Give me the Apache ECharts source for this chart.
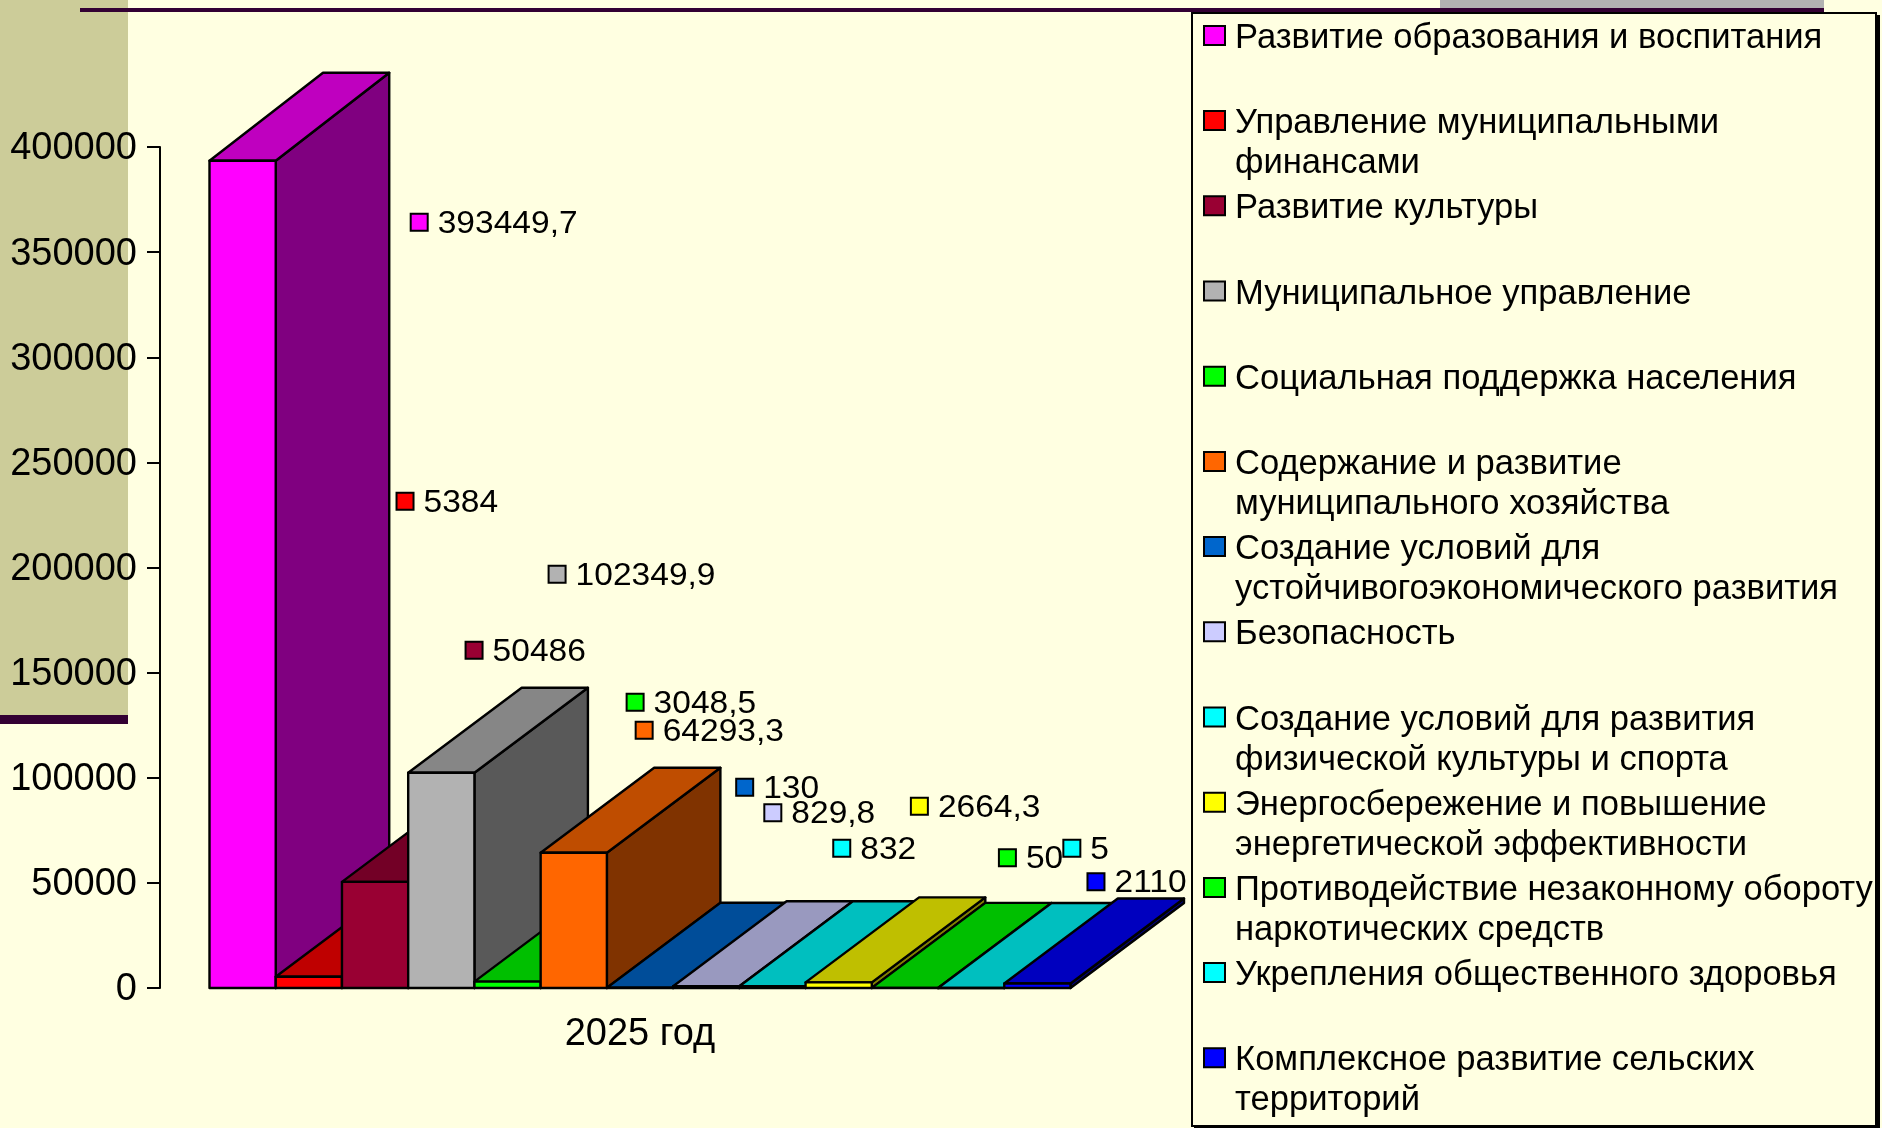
<!DOCTYPE html>
<html><head><meta charset="utf-8">
<style>html,body{margin:0;padding:0;background:#FFFFE1}#c{width:1882px;height:1128px}</style>
<script src="https://cdn.jsdelivr.net/npm/echarts@6/dist/echarts.min.js"></script>
</head><body><div id="c"></div>
<script>
const categories = ['2025 год'];
const seriesNames = [
 'Развитие образования и воспитания',
 'Управление муниципальными\nфинансами',
 'Развитие культуры',
 'Муниципальное управление',
 'Социальная поддержка населения',
 'Содержание и развитие\nмуниципального хозяйства',
 'Создание условий для\nустойчивогоэкономического развития',
 'Безопасность',
 'Создание условий для развития\nфизической культуры и спорта',
 'Энергосбережение и повышение\nэнергетической эффективности',
 'Противодействие незаконному обороту\nнаркотических средств',
 'Укрепления общественного здоровья',
 'Комплексное развитие сельских\nтерриторий'
];
const values = [393449.7, 5384, 50486, 102349.9, 3048.5, 64293.3, 130, 829.8, 832, 2664.3, 50, 5, 2110];
const frontRGB = [[255,0,255],[255,0,0],[153,0,51],[178,178,178],[0,255,0],[255,102,0],[0,102,204],[204,204,255],[0,255,255],[255,255,0],[0,255,0],[0,255,255],[0,0,255]];
// label marker offset from each bar's left edge / the baseline (px)
const labelDX = [201.2,120.8,123.6,140.4,152.2,95,129.3,91.2,93.9,105.3,127.1,125.3,83.2];
const labelDY = [-765.7,-486.7,-337.7,-413.7,-285.7,-257.7,-200.7,-175.2,-139.7,-181.7,-130.2,-139.7,-106.2];

const FONT = '"Liberation Sans", Arial, sans-serif';
const shade = (c, k) => `rgb(${c.map(v => Math.round(v * k)).join(',')})`;
const DEPTH_X = 113.5, GROUP_RATIO = 861 / 960;
const depthY = i => (i === 0 ? 88 : 85);
const INK = '#000', LW = 2.4;

function renderBar(params, api) {
  const i = params.seriesIndex;
  const top = api.coord([api.value(0), api.value(1)]);
  const base = api.coord([api.value(0), 0]);
  const groupW = api.size([1, 0])[0] * GROUP_RATIO;
  const w = groupW / values.length;
  const x0 = top[0] - groupW / 2 + i * w, x1 = x0 + w;
  const yT = top[1], yB = base[1], dy = depthY(i);
  const c = frontRGB[i];
  const poly = (pts, fill) => ({type: 'polygon', shape: {points: pts},
    style: {fill, stroke: INK, lineWidth: LW, lineJoin: 'round'}});
  const mx = x0 + labelDX[i], my = yB + labelDY[i];
  return {type: 'group', children: [
    poly([[x1,yT],[x1+DEPTH_X,yT-dy],[x1+DEPTH_X,yB-dy],[x1,yB]], shade(c,.5)),
    poly([[x0,yT],[x1,yT],[x1+DEPTH_X,yT-dy],[x0+DEPTH_X,yT-dy]], shade(c,.75)),
    poly([[x0,yT],[x1,yT],[x1,yB],[x0,yB]], shade(c,1)),
    {type: 'rect', z2: 50, shape: {x: mx, y: my - 8.5, width: 17, height: 17},
      style: {fill: shade(c,1), stroke: INK, lineWidth: 2}},
    {type: 'text', z2: 50, x: mx + 27, y: my + 2, scaleX: 1.1, style: {
      text: String(values[i]).replace('.', ','), fill: '#000',
      font: '30.5px ' + FONT, textAlign: 'left', textVerticalAlign: 'middle'}}
  ]};
}

const bg = '#FFFFE1', band = '#CCCC99', dark = '#330033';
const rect = (x, y, width, height, fill, extra) => ({type: 'rect', z: 0, silent: true,
  shape: {x, y, width, height}, style: Object.assign({fill}, extra || {})});

const chart = echarts.init(document.getElementById('c'), null, {renderer: 'canvas'});
chart.setOption({
  animation: false,
  backgroundColor: bg,
  graphic: {elements: [
    rect(0, 0, 128, 715, band),
    rect(0, 715, 128, 9, dark),
    rect(1440, 0, 384, 8, '#B2B2B2'),
    rect(80, 8, 1744, 4, dark),
    rect(1194, 15, 686, 1113, '#000'),
    rect(1192, 13, 684, 1113, bg, {stroke: '#000', lineWidth: 2})
  ]},
  grid: {left: 160, width: 960, top: 147, height: 841},
  xAxis: {type: 'category', data: categories,
    axisLine: {show: false}, axisTick: {show: false},
    axisLabel: {color: '#000', fontSize: 38, fontFamily: FONT, margin: 28}},
  yAxis: {type: 'value', min: 0, max: 400000, interval: 50000,
    splitLine: {show: false},
    axisLine: {show: true, lineStyle: {color: '#000', width: 2}},
    axisTick: {show: true, length: 13, lineStyle: {color: '#000', width: 2}},
    axisLabel: {color: '#000', fontSize: 38, fontFamily: FONT, margin: 23,
      verticalAlign: 'top', lineHeight: 4, formatter: v => String(v)}},
  legend: {
    orient: 'vertical', left: 1203, top: -21.6, height: 1500, width: 678, padding: 0,
    icon: 'path://M0,0H21V19H0ZM0,25L0,25', itemWidth: 21, itemHeight: 25, itemGap: -34.8,
    itemStyle: {borderColor: '#000', borderWidth: 2},
    selectedMode: false, align: 'left',
    data: seriesNames,
    formatter: n => '\n' + n + (n.includes('\n') ? '' : '\n '),
    textStyle: {color: '#000', fontSize: 34.6, fontFamily: FONT, lineHeight: 40, padding: [0,0,0,5]}
  },
  tooltip: {show: false},
  series: seriesNames.map((name, i) => ({
    type: 'custom', name, coordinateSystem: 'cartesian2d', clip: false,
    itemStyle: {color: shade(frontRGB[i], 1)},
    encode: {x: 0, y: 1},
    renderItem: renderBar,
    data: [[0, values[i]]]
  }))
});
</script></body></html>
